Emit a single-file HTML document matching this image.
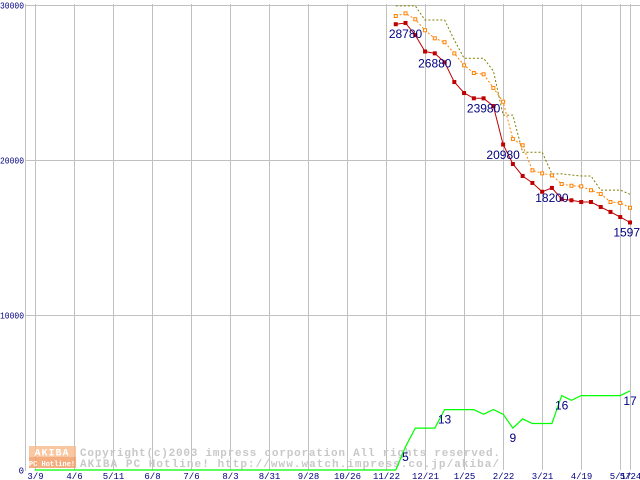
<!DOCTYPE html>
<html><head><meta charset="utf-8">
<style>
html,body{margin:0;padding:0;background:#fff;}
svg{display:block;font-family:"Liberation Mono","DejaVu Sans Mono",monospace;}
</style></head>
<body>
<svg id="chart" width="640" height="480" viewBox="0 0 640 480" xmlns="http://www.w3.org/2000/svg">
<g id="grid"></g>
<g id="watermark">
  <rect x="29" y="446" width="47" height="11" fill="#f7b98a" opacity="0.8"/>
  <rect x="29" y="457" width="47" height="11" fill="#f39a62" opacity="0.8"/>
  <text x="52" y="455.5" font-size="10" font-weight="bold" fill="#fff" text-anchor="middle" letter-spacing="1">AKIBA</text>
  <text x="52" y="466" font-size="7" font-weight="bold" fill="#fff" text-anchor="middle">PC Hotline!</text>
  <text x="80" y="456" font-size="11" font-weight="bold" fill="#c8c8c8" textLength="420" lengthAdjust="spacing">Copyright(c)2003 impress corporation All rights reserved.</text>
  <text x="80" y="467" font-size="11" font-weight="bold" fill="#c8c8c8" textLength="419" lengthAdjust="spacing">AKIBA PC Hotline!  http://www.watch.impress.co.jp/akiba/</text>
</g>
<g id="series"></g>
<g id="labels"></g>
</svg>
<script>
// x-axis categories (week offsets from 11/22)
const xTickLabels = ["3/9","4/6","5/11","6/8","7/6","8/3","8/31","9/28","10/26","11/22","12/21","1/25","2/22","3/21","4/19","5/17","5/24"];
const xTickWeeks = [-36,-32,-28,-24,-20,-16,-12,-8,-4,0,4,8,12,16,20,24,25];
const yTickValues = [0,10000,20000,30000];
// price series (weeks 1..25)
const seriesStart = 1;
const redMin = [28760,28840,28060,27000,26880,26300,25030,24320,23980,23980,23480,21000,19740,18970,18520,17950,18200,17470,17400,17290,17290,16970,16650,16320,15970];
const orangeAvg = [29290,29460,29080,28370,27850,27600,26880,26110,25610,25530,24650,23760,21350,20950,19330,19140,19010,18450,18340,18300,18050,17810,17290,17230,16920];
const oliveMax = [29940,29940,29940,29030,29030,29030,27740,26560,26560,26560,25740,22900,22900,20500,20500,20500,19100,19100,19030,18970,18970,18060,18060,18060,17790];
// shop count series (weeks -36..25)
const greenStart = -36;
const greenCount = [0,0,0,0,0,0,0,0,0,0,0,0,0,0,0,0,0,0,0,0,0,0,0,0,0,0,0,0,0,0,0,0,0,0,0,0,0,
  0,5,9,9,9,13,13,13,13,12,13,12,9,11,10,10,10,16,15,16,16,16,16,16,17];
const redLabelWeeks = [2,5,10,12,17,25];
const redLabelValues = [28780,26880,23980,20980,18200,15970];
const greenLabelWeeks = [2,6,13,18,25];
const greenLabelValues = [5,13,9,16,17];
const countScale = 300;

const NS="http://www.w3.org/2000/svg";
const X0=386, STEP=9.76, Y0=470, YTOP=5;
function xs(w){return X0+w*STEP;}
function ys(v){return Y0-(v/30000)*(Y0-YTOP);}
function mk(tag,attrs,parent){const e=document.createElementNS(NS,tag);for(const k in attrs)e.setAttribute(k,attrs[k]);parent.appendChild(e);return e;}
const grid=document.getElementById('grid'), ser=document.getElementById('series'), lab=document.getElementById('labels');

yTickValues.forEach(v=>{
  const y=Math.round(ys(v))+0.5;
  if(v>0){const l=mk('line',{x1:25.5,x2:640,y1:y,y2:y,stroke:'#c0c0c0','stroke-width':1},grid);
    
    }
  const s=String(v);
  const a={x:24,y:y+3,'font-size':9,fill:'#000080','text-anchor':'end'};
  if(s.length>1){a.x=0;a['text-anchor']='start';a.textLength=s.length*4.8;a.lengthAdjust='spacingAndGlyphs';}
  const t=mk('text',a,grid);
  t.textContent=s;
  
  
});
xTickWeeks.forEach((w,i)=>{
  const x=Math.round(xs(w))+0.5;
  const l=mk('line',{x1:x,x2:x,y1:YTOP-1,y2:Y0,stroke:'#c0c0c0','stroke-width':1},grid);
  
  
  const t=mk('text',{x:x,y:479,'font-size':9,fill:'#000080','text-anchor':'middle'},grid);
  t.textContent=xTickLabels[i];
  
  
});
const ax=mk('line',{x1:25.5,x2:25.5,y1:YTOP-1,y2:Y0+1,stroke:'#c0c0c0'},grid);



function pts(arr,start,scale){return arr.map((v,i)=>xs(start+i).toFixed(1)+','+ys(v*scale).toFixed(1)).join(' ');}
const po=mk('polyline',{points:pts(oliveMax,seriesStart,1),fill:'none',stroke:'#808000','stroke-width':1,'stroke-dasharray':'2,2'},ser);


const pa=mk('polyline',{points:pts(orangeAvg,seriesStart,1),fill:'none',stroke:'#ff8000','stroke-width':1,'stroke-dasharray':'2,2'},ser);


orangeAvg.forEach((v,i)=>{
  const r=mk('rect',{x:xs(seriesStart+i)-1.5,y:ys(v)-1.5,width:3,height:3,fill:'#fff',stroke:'#ff8000','stroke-width':1},ser);
  
  
});
const pr=mk('polyline',{points:pts(redMin,seriesStart,1),fill:'none',stroke:'#c00000','stroke-width':1},ser);


redMin.forEach((v,i)=>{
  const r=mk('rect',{x:xs(seriesStart+i)-2,y:ys(v)-2,width:4,height:4,fill:'#c00000'},ser);
  
  
});
const pg=mk('polyline',{points:pts(greenCount,greenStart,countScale),fill:'none',stroke:'#00ff00','stroke-width':1.2},ser);



redLabelWeeks.forEach((w,i)=>{
  const t=mk('text',{x:xs(w),y:ys(redLabelValues[i])+14,'font-size':12,fill:'#000080','text-anchor':'middle','font-family':'Liberation Sans, sans-serif'},lab);
  t.textContent=String(redLabelValues[i]);
  
  
});
greenLabelWeeks.forEach((w,i)=>{
  const t=mk('text',{x:xs(w),y:ys(greenLabelValues[i]*countScale)+14,'font-size':12,fill:'#000080','text-anchor':'middle','font-family':'Liberation Sans, sans-serif'},lab);
  t.textContent=String(greenLabelValues[i]);
  
  
});
</script>
</body></html>
